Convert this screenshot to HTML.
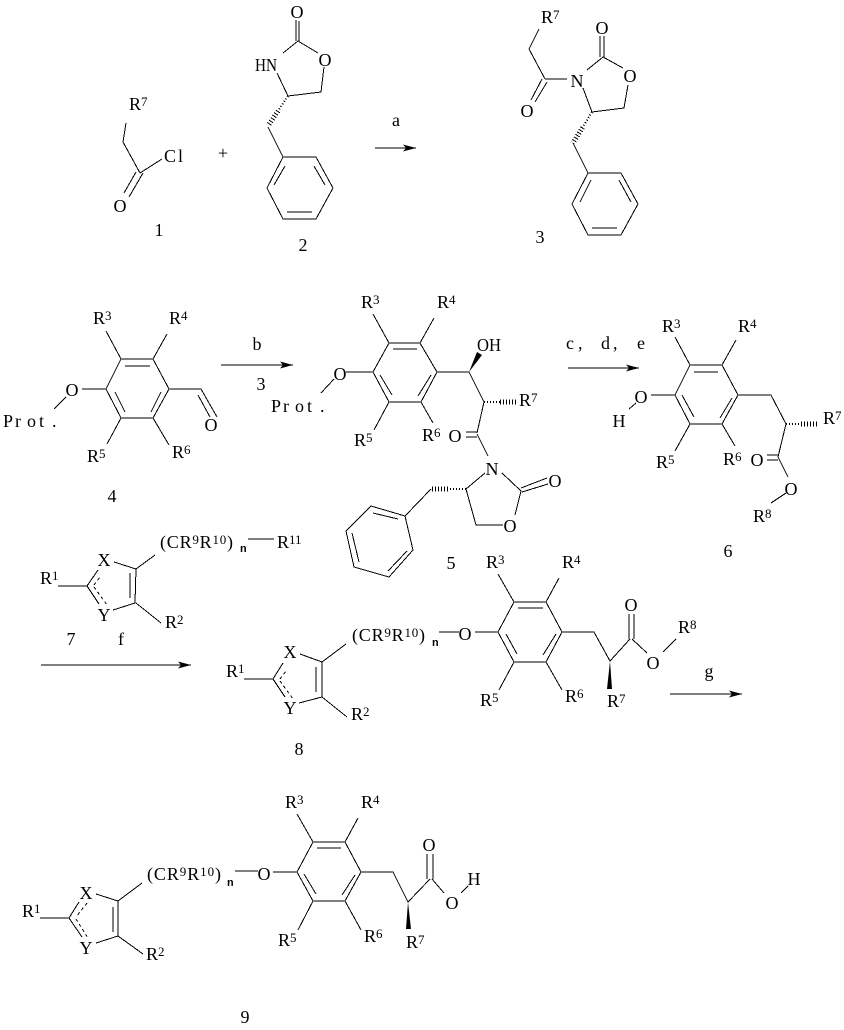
<!DOCTYPE html>
<html><head><meta charset="utf-8"><style>
html,body{margin:0;padding:0;background:#fff}
svg{display:block}
text{font-family:"Liberation Serif",serif;font-size:18px;fill:#000}
.a{text-anchor:middle;font-size:18px}
.s{font-size:13px}
.n{font-family:"Liberation Mono",monospace;font-size:11px;font-weight:bold}
</style></head><body>
<svg width="844" height="1030" viewBox="0 0 844 1030" xmlns="http://www.w3.org/2000/svg">
<rect width="844" height="1030" fill="#fff"/>
<path fill="none" stroke="#000" stroke-width="1" shape-rendering="crispEdges" d="
M126 123L123 142L140 173M136 172L124 193M143 173L129 197M140 173L162 159
M296 20V41M299 21V41M298 41L318 53M298 41L283 53M277 73L288 96L321 92L324 67
M268 127L283 157M283 157H316L333 188L316 219H283L267 188Z M285 166L274 185M314 166L325 185M287 212H312
M375 148H416
M539 29L529 49L545 79M542 79L531 100M547 82L535 102M545 79H567M587 70L603 57M600 36V57M604 36V57M603 57L623 68M628 85L624 108L592 112L583 88
M573 143L588 173M588 173H621L638 204L621 235H588L572 204Z M591 180L580 202M619 180L631 202M592 228H617
M106 331L121 359M167 334L153 359M121 359H153L169 389L153 418H121L106 389Z M125 366H150M115 392L125 412M161 392L151 412
M82 389H106M66 397L54 409M169 389H201L217 417M198 395L210 417M121 418L107 444M153 418L169 445
M221 365H293
M373 314L389 343M434 318L420 343M389 343H420L437 372L421 402H389L373 372Z M393 349H417M380 375L392 395M431 375L418 396
M346 372H373M334 379L321 393M437 372H469L484 402L477 433M466 432H477M466 437H477M477 434L488 456M485 473L466 489L476 525H503M515 515L521 491L502 473M521 488L547 478M522 492L548 484
M431 489L405 516M405 516L371 506L346 531L354 567L389 577L413 550Z M398 519L373 513M352 533L359 562M388 571L407 551
M389 402L374 430M421 402L433 423
M568 368H639
M675 337L690 365M736 340L722 365M690 365H722L738 395L722 424H690L675 395Z M694 372H718M682 395L694 417M732 398L720 418
M651 395H675M636 403L629 409M738 395H771L786 424L778 457M767 455H778M767 460H778M778 457L788 477M786 493L771 503M690 424L675 451M722 424L735 446
M248 539H274M155 555L136 569L135 603L113 610M136 569L114 562M130 573V598M87 586L98 570M87 586L99 604M58 586H87M136 603L161 623
M41 665H191
M346 644L322 662V697L299 703M322 662L300 654M316 667V692M273 679L283 663M273 679L285 697M244 679H273M322 697L347 717
M439 632H459M475 632H498M514 602H546L562 632L546 662H514L498 632Z M518 608H543M506 634L517 654M556 634L543 655
M498 574L514 602M559 578L546 602M514 662L499 690M546 662L562 690M562 632H594L610 661L630 639M629 614V639M634 614V639M632 639L647 653M663 652L676 639
M670 694H742
M142 883L118 901V936L96 943M118 901L96 894M113 907V932M69 918L79 902M69 918L82 937M40 918H69M118 936L143 954
M235 871H258M273 872H297M313 842H345L361 872L345 901H313L297 872Z M317 848H341M304 874L316 894M355 875L342 895
M297 814L313 842M358 818L345 842M313 901L298 930M345 901L361 930M361 872H393L408 902L430 879M427 854V879M433 854V879M432 879L444 893M461 893L468 886
"/>
<g fill="none" stroke="#000" stroke-dasharray="1 2" shape-rendering="crispEdges">
<path stroke-width="2" d="M288 96L278 111M592 112L582.5 127.5M484 402H500M466 489H448M786 424H801"/>
<path stroke-width="5" d="M278 111L268 126M582.5 127.5L573 143M500 402H517M448 489H431M801 424H817"/>
</g>
<g fill="none" stroke="#000" stroke-dasharray="3 3" shape-rendering="crispEdges">
<path d="M94 585L100 577M94 587L107 605M280 679L286 671M280 681L293 699M87 903L76 917M76 919L88 938"/>
</g>
<g fill="#000">
<polygon points="416,148 403,144.5 406,148 403,151.5"/>
<polygon points="293,365 280,361.5 283,365 280,368.5"/>
<polygon points="639,368 626,364.5 629,368 626,371.5"/>
<polygon points="191,665 178,661.5 181,665 178,668.5"/>
<polygon points="742,694 729,690.5 732,694 729,697.5"/>
<polygon points="469,372 477,352 482,355"/>
<polygon points="610,661 607,689 612,689"/>
<polygon points="408,902 406,929 411,929"/>
</g>

<!-- 1 -->
<text x="129" y="110">R<tspan class="s" dy="-4">7</tspan></text>
<text y="162"><tspan x="164">C</tspan><tspan x="178">l</tspan></text>
<text class="a" x="120" y="212">O</text>
<text class="a" x="159" y="236">1</text>
<text class="a" x="223" y="159">+</text>
<!-- 2 -->
<text class="a" x="297" y="18">O</text>
<text x="255" y="71" textLength="22" lengthAdjust="spacingAndGlyphs">HN</text>
<text class="a" x="325" y="66">O</text>
<text class="a" x="303" y="251">2</text>
<text class="a" x="396" y="126">a</text>
<!-- 3 -->
<text x="541" y="23">R<tspan class="s" dy="-4">7</tspan></text>
<text class="a" x="527" y="117">O</text>
<text class="a" x="577" y="87">N</text>
<text class="a" x="602" y="34">O</text>
<text class="a" x="630" y="82">O</text>
<text class="a" x="540" y="243">3</text>
<!-- 4 -->
<text x="93" y="324">R<tspan class="s" dy="-4">3</tspan></text>
<text x="169" y="324">R<tspan class="s" dy="-4">4</tspan></text>
<text class="a" x="72" y="396">O</text>
<text y="427"><tspan x="3">P</tspan><tspan x="15">r</tspan><tspan x="27">o</tspan><tspan x="39">t</tspan><tspan x="52">.</tspan></text>
<text class="a" x="211" y="431">O</text>
<text x="87" y="462">R<tspan class="s" dy="-4">5</tspan></text>
<text x="172" y="458">R<tspan class="s" dy="-4">6</tspan></text>
<text class="a" x="112" y="502">4</text>
<text class="a" x="257" y="350">b</text>
<text class="a" x="261" y="390">3</text>
<!-- 5 -->
<text x="361" y="308">R<tspan class="s" dy="-4">3</tspan></text>
<text x="437" y="308">R<tspan class="s" dy="-4">4</tspan></text>
<text class="a" x="340" y="380">O</text>
<text y="412"><tspan x="271">P</tspan><tspan x="283">r</tspan><tspan x="295">o</tspan><tspan x="307">t</tspan><tspan x="320">.</tspan></text>
<text x="477" y="351" textLength="24" lengthAdjust="spacingAndGlyphs">OH</text>
<text x="519" y="406">R<tspan class="s" dy="-4">7</tspan></text>
<text class="a" x="455" y="442">O</text>
<text class="a" x="492" y="475">N</text>
<text class="a" x="555" y="487">O</text>
<text class="a" x="510" y="532">O</text>
<text x="354" y="446">R<tspan class="s" dy="-4">5</tspan></text>
<text x="422" y="441">R<tspan class="s" dy="-4">6</tspan></text>
<text class="a" x="451" y="569">5</text>
<!-- 6 -->
<text y="349"><tspan x="566">c</tspan><tspan x="578">,</tspan><tspan x="601">d</tspan><tspan x="613">,</tspan><tspan x="637">e</tspan></text>
<text x="662" y="332">R<tspan class="s" dy="-4">3</tspan></text>
<text x="738" y="332">R<tspan class="s" dy="-4">4</tspan></text>
<text class="a" x="641" y="403">O</text>
<text class="a" x="619" y="427">H</text>
<text x="823" y="424">R<tspan class="s" dy="-4">7</tspan></text>
<text class="a" x="757" y="466">O</text>
<text class="a" x="791" y="495">O</text>
<text x="753" y="522">R<tspan class="s" dy="-4">8</tspan></text>
<text x="656" y="468">R<tspan class="s" dy="-4">5</tspan></text>
<text x="723" y="465">R<tspan class="s" dy="-4">6</tspan></text>
<text class="a" x="728" y="557">6</text>
<!-- 7 -->
<text x="160" y="548" textLength="73">(CR<tspan class="s" dy="-4">9</tspan><tspan dy="4">R</tspan><tspan class="s" dy="-4">10</tspan><tspan dy="4">)</tspan></text>
<text class="n" x="240" y="552">n</text>
<text x="277" y="548">R<tspan class="s" dy="-4">11</tspan></text>
<text class="a" x="104" y="566">X</text>
<text class="a" x="104" y="621">Y</text>
<text x="40" y="584">R<tspan class="s" dy="-4">1</tspan></text>
<text x="165" y="628">R<tspan class="s" dy="-4">2</tspan></text>
<text class="a" x="71" y="645">7</text>
<text class="a" x="121" y="645">f</text>
<!-- 8 -->
<text class="a" x="290" y="658">X</text>
<text class="a" x="290" y="714">Y</text>
<text x="226" y="677">R<tspan class="s" dy="-4">1</tspan></text>
<text x="351" y="720">R<tspan class="s" dy="-4">2</tspan></text>
<text x="352" y="641" textLength="73">(CR<tspan class="s" dy="-4">9</tspan><tspan dy="4">R</tspan><tspan class="s" dy="-4">10</tspan><tspan dy="4">)</tspan></text>
<text class="n" x="432" y="646">n</text>
<text class="a" x="299" y="755">8</text>
<text class="a" x="465" y="640">O</text>
<text x="486" y="568">R<tspan class="s" dy="-4">3</tspan></text>
<text x="562" y="568">R<tspan class="s" dy="-4">4</tspan></text>
<text x="480" y="706">R<tspan class="s" dy="-4">5</tspan></text>
<text x="565" y="702">R<tspan class="s" dy="-4">6</tspan></text>
<text x="607" y="707">R<tspan class="s" dy="-4">7</tspan></text>
<text class="a" x="631" y="611">O</text>
<text class="a" x="653" y="669">O</text>
<text x="678" y="633">R<tspan class="s" dy="-4">8</tspan></text>
<text class="a" x="709" y="677">g</text>
<!-- 9 -->
<text x="147" y="880" textLength="74">(CR<tspan class="s" dy="-4">9</tspan><tspan dy="4">R</tspan><tspan class="s" dy="-4">10</tspan><tspan dy="4">)</tspan></text>
<text class="n" x="227" y="886">n</text>
<text class="a" x="264" y="880">O</text>
<text x="22" y="917">R<tspan class="s" dy="-4">1</tspan></text>
<text class="a" x="86" y="899">X</text>
<text class="a" x="86" y="954">Y</text>
<text x="146" y="960">R<tspan class="s" dy="-4">2</tspan></text>
<text class="a" x="245" y="1023">9</text>
<text x="285" y="808">R<tspan class="s" dy="-4">3</tspan></text>
<text x="361" y="808">R<tspan class="s" dy="-4">4</tspan></text>
<text x="278" y="946">R<tspan class="s" dy="-4">5</tspan></text>
<text x="364" y="942">R<tspan class="s" dy="-4">6</tspan></text>
<text x="406" y="948">R<tspan class="s" dy="-4">7</tspan></text>
<text class="a" x="429" y="851">O</text>
<text class="a" x="452" y="909">O</text>
<text class="a" x="474" y="885">H</text>
</svg>
</body></html>
